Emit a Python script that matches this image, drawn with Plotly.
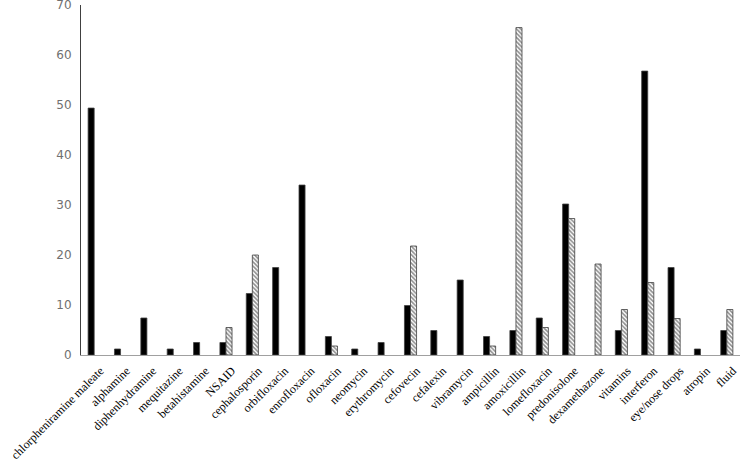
import plotly.graph_objects as go

drugs = ["chlorpheniramine maleate", "alphamine", "diphenhydramine", "mequitazine",
         "betahistamine", "NSAID", "cephalosporin", "orbifloxacin", "enrofloxacin",
         "ofloxacin", "neomycin", "erythromycin", "cefovecin", "cefalexin", "vibramycin",
         "ampicillin", "amoxicillin", "lomefloxacin", "predonisolone", "dexamethazone",
         "vitamins", "interferon", "eye/nose drops", "atropin", "fluid"]

# solid black series (None = no bar)
series_a = [49.4, 1.2, 7.4, 1.2, 2.5, 2.5, 12.3, 17.5, 34.0, 3.7, 1.2, 2.5, 9.9,
            4.9, 15.0, 3.7, 4.9, 7.4, 30.2, None, 4.9, 56.8, 17.5, 1.2, 4.9]
# hatched series
series_b = [None, None, None, None, None, 5.5, 20.0, None, None, 1.8, None, None, 21.8,
            None, None, 1.8, 65.5, 5.5, 27.3, 18.2, 9.1, 14.5, 7.3, None, 9.1]

y_ticks = [0, 10, 20, 30, 40, 50, 60, 70]

fig = go.Figure()
fig.add_trace(go.Bar(x=drugs, y=series_a, name="A",
                     marker=dict(color="black", line=dict(color="#404040", width=0.8))))
fig.add_trace(go.Bar(x=drugs, y=series_b, name="B",
                     marker=dict(color="white",
                                 pattern=dict(shape="\\", fgcolor="#222222", bgcolor="white",
                                              size=3, solidity=0.55),
                                 line=dict(color="#404040", width=0.8))))

fig.update_layout(
    width=742, height=465,
    barmode="group", bargap=0.54, bargroupgap=0.0,
    showlegend=False,
    plot_bgcolor="white", paper_bgcolor="white",
    margin=dict(l=81, r=2, t=5, b=110),
)
fig.update_xaxes(showline=True, linecolor="#a0a0a0", linewidth=1, ticks="",
                 tickangle=-45, showgrid=False, automargin=False,
                 ticklabelstandoff=3, ticklabelshift=6,
                 tickfont=dict(family="Liberation Serif", size=12, color="black"))
fig.update_yaxes(range=[0, 70.02], tickvals=y_ticks, showline=True, linecolor="#404040",
                 linewidth=1, showgrid=False, zeroline=False, ticks="", automargin=False,
                 ticklabelstandoff=6, ticklabeloverflow="allow",
                 tickfont=dict(family="DejaVu Sans", size=12, color="#707070"))

# page body margin would shift the figure; remove it
fig.write_html("out.html", config={"displayModeBar": False},
               post_script="document.body.style.margin='0';")
